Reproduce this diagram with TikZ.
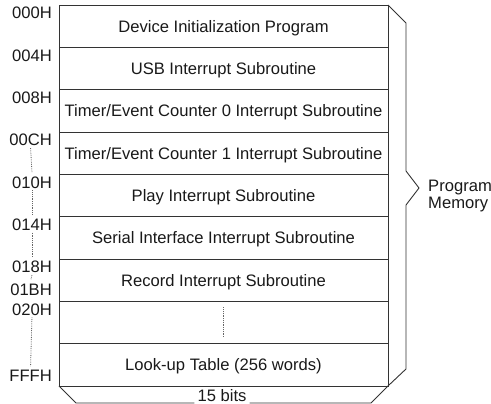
\documentclass[tikz,border=0pt]{standalone}
\usepackage{fontspec}
\setmainfont{Liberation Sans}
\usetikzlibrary{positioning}

\begin{document}
\begin{tikzpicture}[x=1pt,y=-1pt,
		txt/.style={font=\fontsize{16.6}{17}\selectfont, text=black!90},
		memrow/.style={txt, draw=black!80, line width=0.9pt, minimum width=329pt,
			minimum height=42.33pt, inner sep=0pt, outer sep=0pt,
			text height=11.9pt, text depth=0pt},
		addr/.style={txt, anchor=east, inner sep=0pt},
		gap/.style={draw=black!60, densely dotted, line width=0.8pt},
		brace/.style={draw=black!80, line width=0.9pt}]
		\useasboundingbox (0,0) rectangle (491,404);
		
		% memory rows
		\node[memrow, anchor=north] (r1) at (223.5,5) {Device Initialization Program};
		\node[memrow, below=0pt of r1] (r2) {USB Interrupt Subroutine};
		\node[memrow, below=0pt of r2] (r3) {Timer/Event Counter 0 Interrupt Subroutine};
		\node[memrow, below=0pt of r3] (r4) {Timer/Event Counter 1 Interrupt Subroutine};
		\node[memrow, below=0pt of r4] (r5) {Play Interrupt Subroutine};
		\node[memrow, below=0pt of r5] (r6) {Serial Interface Interrupt Subroutine};
		\node[memrow, below=0pt of r6] (r7) {Record Interrupt Subroutine};
		\node[memrow, below=0pt of r7] (r8) {};
		\node[memrow, below=0pt of r8] (r9) {Look-up Table (256 words)};
		\draw[gap] ([yshift=-6pt]r8.north) -- ([yshift=6pt]r8.south);
		
		% addresses
		\node[addr] (a000) at ([xshift=-7pt,yshift=-8pt]r1.north west) {000H};
		\node[addr] (a004) at ([xshift=-7pt,yshift=-8pt]r2.north west) {004H};
		\node[addr] (a008) at ([xshift=-7pt,yshift=-8pt]r3.north west) {008H};
		\node[addr] (a00C) at ([xshift=-7pt,yshift=-8pt]r4.north west) {00CH};
		\node[addr] (a010) at ([xshift=-7pt,yshift=-8pt]r5.north west) {010H};
		\node[addr] (a014) at ([xshift=-7pt,yshift=-8pt]r6.north west) {014H};
		\node[addr] (a018) at ([xshift=-7pt,yshift=-8pt]r7.north west) {018H};
		\node[addr] (a01B) at ([xshift=-7pt,yshift=12pt]r8.north west) {01BH};
		\node[addr] (a020) at ([xshift=-7pt,yshift=-8pt]r8.north west) {020H};
		\node[addr] (aFFF) at ([xshift=-7pt,yshift=10pt]r9.south west) {FFFH};
		\foreach \u/\v in {a00C/a010, a010/a014, a014/a018, a018/a01B, a020/aFFF}
		\draw[gap] ([yshift=-2pt]\u.south) -- ([yshift=4pt]\v.north);
		
		% width brace
		\node[txt, inner xsep=3pt, inner ysep=0pt, text height=11.9pt, text depth=0pt]
		(bits) at (222,396) {15 bits};
		\coordinate (bl) at ([shift={(17,17)}]r9.south west);
		\coordinate (br) at ([shift={(-17,17)}]r9.south east);
		\draw[brace] (r9.south west) -- (bl) -- (bl -| bits.west);
		\draw[brace] (br -| bits.east) -- (br) -- (r9.south east);
		
		% program memory brace
		\coordinate (tip) at (419,188);
		\node[txt, anchor=west, align=left, inner sep=0pt] (pm) at (428,196) {Program\\Memory};
		\draw[brace] (r1.north east) -- ++(18,18) -- (406,171) -- (tip) -- (406,205)
		-- (406,369) -- (r9.south east);
\end{tikzpicture}
\end{document}
